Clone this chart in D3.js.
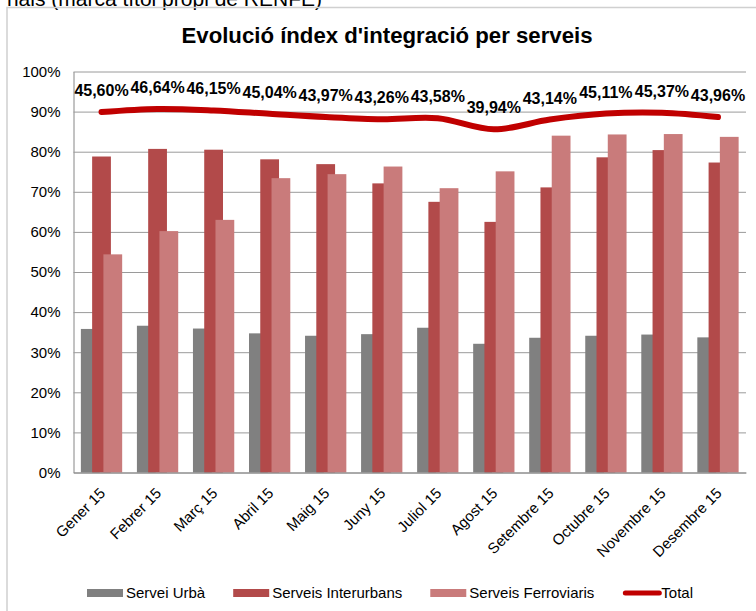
<!DOCTYPE html>
<html>
<head>
<meta charset="utf-8">
<script src="https://cdn.jsdelivr.net/npm/d3@7"></script>
<style>
  body { margin: 0; background: #fff; }
  svg { display: block; font-family: Arial, "Liberation Sans", sans-serif; }
</style>
</head>
<body>
<svg id="chart" width="756" height="611"></svg>
<script>
// Chart data
const months = ['Gener 15', 'Febrer 15', 'Març 15', 'Abril 15', 'Maig 15', 'Juny 15',
  'Juliol 15', 'Agost 15', 'Setembre 15', 'Octubre 15', 'Novembre 15', 'Desembre 15'];
const serveiUrba = [35.8, 36.6, 35.9, 34.7, 34.1, 34.5, 36.1, 32.1, 33.6, 34.1, 34.4, 33.7];
const serveisInterurbans = [78.8, 80.7, 80.5, 78.1, 76.9, 72.1, 67.5, 62.5, 71.1, 78.6, 80.4, 77.3];
const serveisFerroviaris = [54.4, 60.2, 63.0, 73.4, 74.4, 76.3, 70.9, 75.1, 84.0, 84.3, 84.4, 83.7];
const total = [45.60, 46.64, 46.15, 45.04, 43.97, 43.26, 43.58, 39.94, 43.14, 45.11, 45.37, 43.96];
const yTicks = [0, 10, 20, 30, 40, 50, 60, 70, 80, 90, 100];

const series = [
  { name: 'Servei Urbà', values: serveiUrba, color: '#808080' },
  { name: 'Serveis Interurbans', values: serveisInterurbans, color: '#B24A4A' },
  { name: 'Serveis Ferroviaris', values: serveisFerroviaris, color: '#C97B7B' },
];
const totalColor = '#C00000';

const svg = d3.select('#chart');

// plot area
const plotLeft = 73.5, plotRight = 746, plotTop = 71.5, plotBottom = 472.5;

// caption of the page above the chart box (cut at the top in the original)
svg.append('text')
  .attr('x', 322).attr('y', 6)
  .attr('text-anchor', 'end')
  .style('font-size', '21px')
  .text('rials (marca títol propi de RENFE)');

// chart frame
svg.append('rect')
  .attr('x', 7).attr('y', 7.5)
  .attr('width', 800).attr('height', 700)
  .attr('fill', 'none').attr('stroke', '#d0d0d0').attr('stroke-width', 1.5);

svg.append('text')
  .attr('x', 387).attr('y', 43)
  .attr('text-anchor', 'middle')
  .style('font-size', '22.2px').style('font-weight', 'bold')
  .text("Evolució índex d'integració per serveis");

const x = d3.scaleBand().domain(months).range([plotLeft, plotRight]).paddingInner(0).paddingOuter(0);
const y = d3.scaleLinear().domain([0, 100]).range([plotBottom, plotTop]);
// hidden secondary axis used by the Total line
const y2 = d3.scaleLinear().domain([-73.3, 59.0]).range([plotBottom, plotTop]);

// y axis + gridlines
const yAxis = svg.append('g')
  .attr('transform', `translate(${plotLeft},0)`)
  .call(d3.axisLeft(y).tickValues(yTicks).tickSize(-(plotRight - plotLeft)).tickSizeOuter(0)
    .tickPadding(13).tickFormat(d => d + '%'));
yAxis.select('.domain').attr('stroke', '#868686');
yAxis.selectAll('.tick line').attr('stroke', '#9a9a9a');
yAxis.selectAll('.tick text').style('font-size', '15px').attr('fill', '#000');

// bars: overlapping clustered columns
const barW = x.bandwidth() * 0.335;
const barStep = barW * 0.6;
const groupW = barW + barStep * (series.length - 1);

series.forEach((s, si) => {
  svg.append('g').selectAll('rect')
    .data(s.values)
    .join('rect')
    .attr('x', (d, i) => x(months[i]) + x.bandwidth() / 2 - groupW / 2 + si * barStep)
    .attr('y', d => y(d))
    .attr('width', barW)
    .attr('height', d => y(0) - y(d))
    .attr('fill', s.color);
});

// x axis
const xAxis = svg.append('g')
  .attr('transform', `translate(0,${plotBottom})`)
  .call(d3.axisBottom(x).tickSize(0).tickSizeOuter(0));
xAxis.select('.domain').attr('stroke', '#868686');
xAxis.selectAll('.tick text')
  .attr('x', 0).attr('y', 0).attr('dy', '0.35em')
  .attr('transform', 'translate(1,18) rotate(-45)')
  .style('text-anchor', 'end')
  .style('font-size', '15px')
  .attr('fill', '#000');

// Total line (smoothed)
const line = d3.line()
  .x((d, i) => x(months[i]) + x.bandwidth() / 2)
  .y(d => y2(d))
  .curve(d3.curveCatmullRom.alpha(0));

svg.append('path')
  .datum(total)
  .attr('d', line)
  .attr('fill', 'none')
  .attr('stroke', totalColor)
  .attr('stroke-width', 6)
  .attr('stroke-linecap', 'round');

svg.append('g').selectAll('text')
  .data(total)
  .join('text')
  .attr('x', (d, i) => x(months[i]) + x.bandwidth() / 2)
  .attr('y', d => y2(d) - 16)
  .attr('text-anchor', 'middle')
  .style('font-size', '16px').style('font-weight', 'bold')
  .text(d => d.toFixed(2).replace('.', ',') + '%');

// legend
const legend = svg.append('g').attr('transform', 'translate(87,593)');
const legendItems = series.map(s => ({ name: s.name, color: s.color, type: 'bar' }))
  .concat([{ name: 'Total', color: totalColor, type: 'line' }]);
let lx = 0;
legendItems.forEach((it, i) => {
  if (it.type === 'bar') {
    legend.append('rect').attr('x', lx).attr('y', -4).attr('width', 36).attr('height', 8).attr('fill', it.color);
  } else {
    legend.append('line').attr('x1', lx + 3).attr('x2', lx + 37).attr('y1', 0).attr('y2', 0)
      .attr('stroke', it.color).attr('stroke-width', 5).attr('stroke-linecap', 'round');
  }
  const t = legend.append('text')
    .attr('x', lx + 39).attr('y', 0).attr('dy', '0.35em')
    .style('font-size', '15px')
    .text(it.name);
  lx += 39 + t.node().getComputedTextLength() + 28;
});
</script>
</body>
</html>
